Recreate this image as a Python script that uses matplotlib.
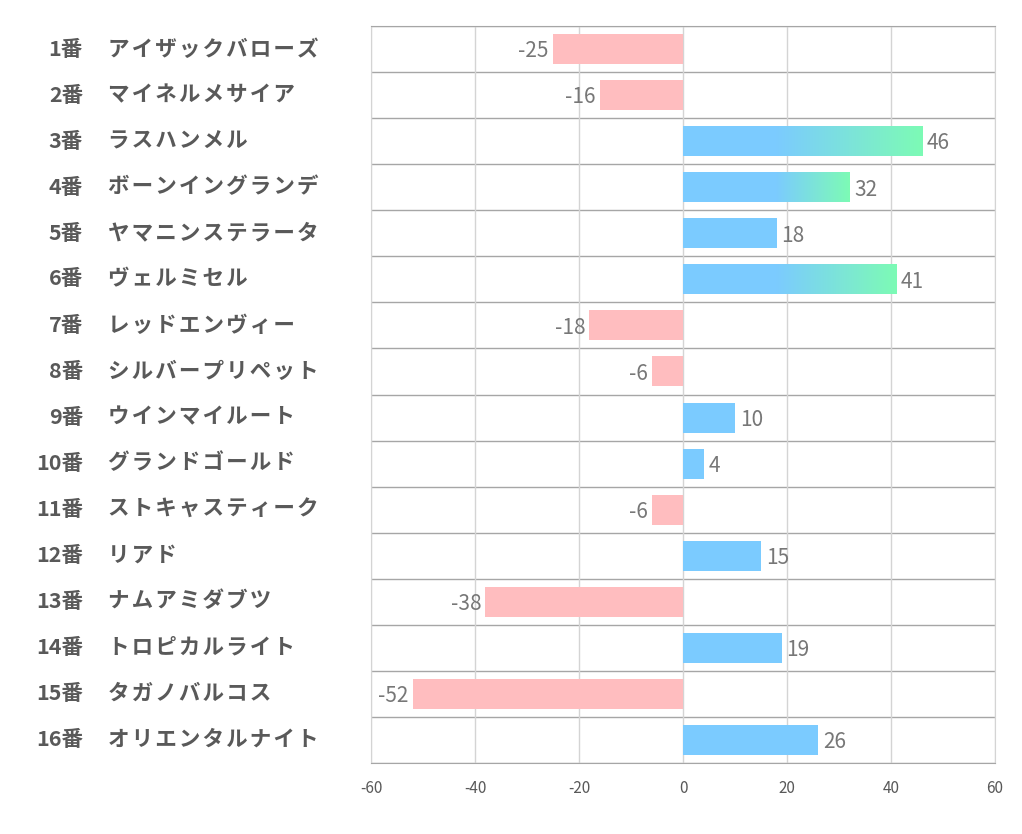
import numpy as np
import matplotlib.pyplot as plt
from matplotlib.colors import LinearSegmentedColormap

plt.rcParams['font.family'] = ['Noto Sans CJK JP', 'DejaVu Sans']
plt.rcParams['axes.unicode_minus'] = False

numbers = ["1番", "2番", "3番", "4番", "5番", "6番", "7番", "8番",
           "9番", "10番", "11番", "12番", "13番", "14番", "15番", "16番"]
names = ["アイザックバローズ", "マイネルメサイア", "ラスハンメル", "ボーンイングランデ",
         "ヤマニンステラータ", "ヴェルミセル", "レッドエンヴィー", "シルバープリペット",
         "ウインマイルート", "グランドゴールド", "ストキャスティーク", "リアド",
         "ナムアミダブツ", "トロピカルライト", "タガノバルコス", "オリエンタルナイト"]
values = [-25, -16, 46, 32, 18, 41, -18, -6, 10, 4, -6, 15, -38, 19, -52, 26]

blue = "#7BCBFF"
pink = "#FFBDBF"
green = "#7DFBB5"
grad = LinearSegmentedColormap.from_list("g", [blue, green])

fig = plt.figure(figsize=(10.22, 8.34), dpi=100)
ax = fig.add_axes([371 / 1022, 1 - 763 / 834, 624 / 1022, 737 / 834])

n = len(values)
ys = np.arange(n)
h = 0.65
for y, v in zip(ys, values):
    if v < 0:
        ax.barh(y, v, height=h, color=pink, zorder=2)
        ax.text(v - 0.8, y + 0.05, str(v), ha="right", va="center", fontsize=15, color="#777777")
    else:
        if v >= 30:
            ax.barh(y, 18, height=h, color=blue, zorder=2)
            g = np.linspace(0, 1, 256).reshape(1, -1)
            ax.imshow(g, cmap=grad, extent=[17.9, v, y + h / 2, y - h / 2],
                      aspect="auto", zorder=2, interpolation="bilinear")
        else:
            ax.barh(y, v, height=h, color=blue, zorder=2)
        ax.text(v + 0.9, y + 0.05, str(v), ha="left", va="center", fontsize=15, color="#777777")

ax.set_xlim(-60, 60)
ax.set_ylim(n - 0.5, -0.5)
ax.set_xticks(range(-60, 61, 20))
ax.set_yticks([])
ax.grid(axis="x", color="#D4D4D4", linewidth=1, zorder=0)
for b in np.arange(-0.5, n, 1):
    ax.axhline(b, color="#A6A6A6", linewidth=1, zorder=1)

for s in ["left", "right"]:
    ax.spines[s].set_color("#D4D4D4")
for s in ["top", "bottom"]:
    ax.spines[s].set_color("#A6A6A6")
ax.tick_params(axis="x", length=0, pad=12, labelsize=11, labelcolor="#595959")

for y, num, name in zip(ys, numbers, names):
    yf = 1 - (26 + 46 * (y + 0.5)) / 834
    fig.text(83 / 1022, yf, num, ha="right", va="center", fontsize=15.5,
             fontweight="bold", color="#595959")
    fig.text(108 / 1022, yf, "\u200a".join(name), ha="left", va="center", fontsize=15.5,
             fontweight="bold", color="#595959")

fig.savefig("out.png", dpi=100)
